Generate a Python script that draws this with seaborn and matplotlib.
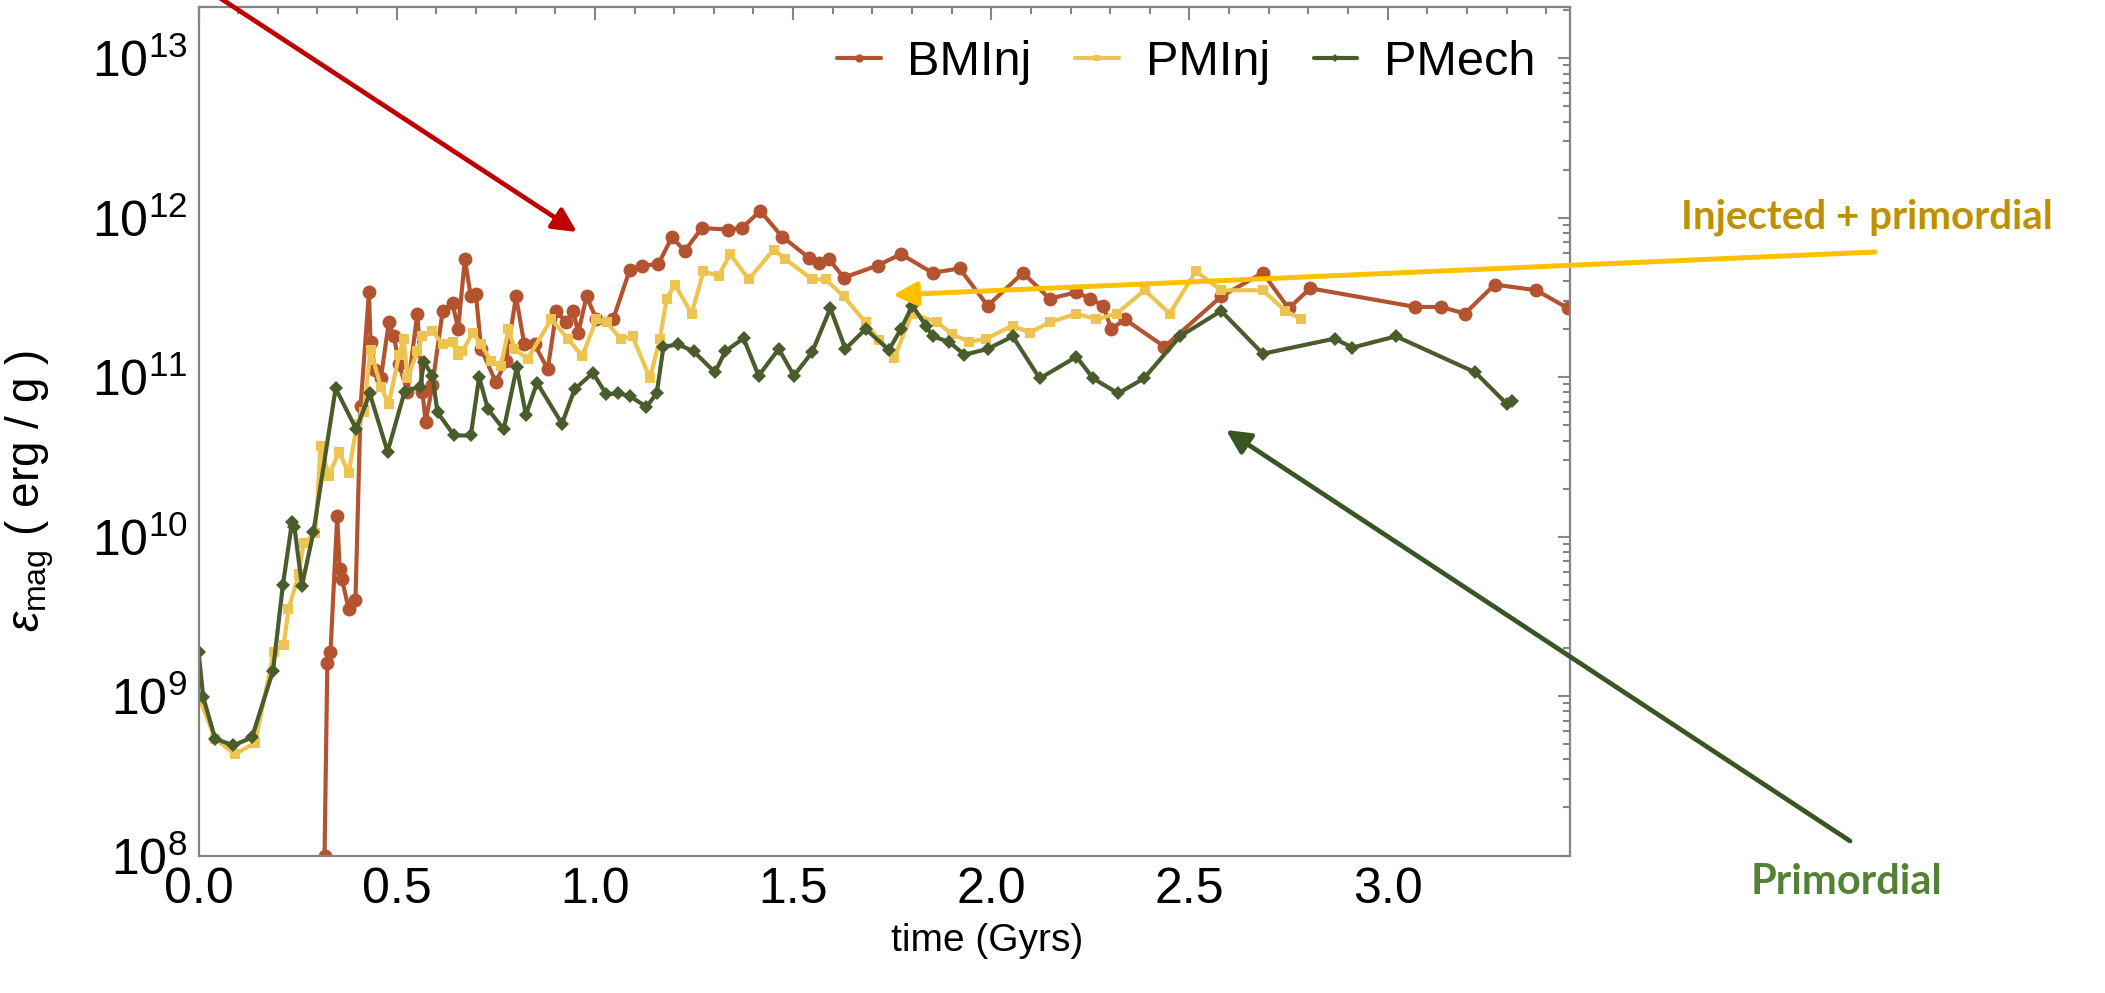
import numpy as np
import pandas as pd
import matplotlib
matplotlib.use("Agg")
import matplotlib.pyplot as plt
import seaborn as sns
from matplotlib.ticker import FixedLocator, MultipleLocator, NullFormatter

# ---- data: magnetic energy per unit mass (erg/g) versus time (Gyr) ----
bminj_time = [0.318, 0.325, 0.333, 0.350, 0.356, 0.362, 0.379, 0.396, 0.409, 0.430,
              0.434, 0.446, 0.460, 0.480, 0.493, 0.506, 0.527, 0.552, 0.565, 0.573,
              0.590, 0.616, 0.641, 0.655, 0.672, 0.687, 0.700, 0.713, 0.750, 0.776,
              0.801, 0.822, 0.848, 0.881, 0.903, 0.928, 0.945, 0.958, 0.979, 1.004,
              1.046, 1.088, 1.118, 1.160, 1.194, 1.227, 1.270, 1.337, 1.371, 1.417,
              1.472, 1.540, 1.565, 1.590, 1.628, 1.713, 1.772, 1.852, 1.920, 1.991,
              2.080, 2.147, 2.215, 2.249, 2.282, 2.303, 2.337, 2.437, 2.580, 2.685,
              2.750, 2.805, 3.070, 3.135, 3.195, 3.270, 3.375, 3.455]
bminj_emag = [1.0e8, 1.6e9, 1.9e9, 1.35e10, 6.3e9, 5.4e9, 3.5e9, 4.0e9, 6.6e10, 3.4e11,
              1.66e11, 1.1e11, 9.8e10, 2.2e11, 1.8e11, 1.2e11, 8.1e10, 2.5e11, 8.1e10, 5.2e10,
              8.9e10, 2.6e11, 2.9e11, 2.0e11, 5.5e11, 3.2e11, 3.3e11, 1.5e11, 9.3e10, 1.26e11,
              3.2e11, 1.6e11, 1.6e11, 1.12e11, 2.6e11, 2.2e11, 2.6e11, 1.9e11, 3.2e11, 2.3e11,
              2.3e11, 4.7e11, 5.0e11, 5.1e11, 7.5e11, 6.2e11, 8.6e11, 8.4e11, 8.6e11, 1.1e12,
              7.6e11, 5.6e11, 5.2e11, 5.5e11, 4.2e11, 5.0e11, 5.9e11, 4.5e11, 4.8e11, 2.8e11,
              4.5e11, 3.1e11, 3.4e11, 3.1e11, 2.8e11, 2.0e11, 2.3e11, 1.55e11, 3.2e11, 4.5e11,
              2.7e11, 3.6e11, 2.75e11, 2.75e11, 2.5e11, 3.8e11, 3.5e11, 2.7e11]

pminj_time = [0.000, 0.042, 0.092, 0.143, 0.190, 0.215, 0.227, 0.253, 0.265, 0.295,
              0.308, 0.329, 0.354, 0.379, 0.400, 0.417, 0.434, 0.460, 0.480, 0.506,
              0.518, 0.527, 0.552, 0.565, 0.590, 0.616, 0.641, 0.654, 0.666, 0.692,
              0.713, 0.738, 0.763, 0.782, 0.797, 0.830, 0.890, 0.932, 0.968, 1.004,
              1.030, 1.065, 1.095, 1.139, 1.164, 1.181, 1.202, 1.244, 1.274, 1.312,
              1.341, 1.388, 1.451, 1.480, 1.548, 1.582, 1.628, 1.683, 1.717, 1.755,
              1.800, 1.864, 1.900, 1.945, 1.987, 2.054, 2.097, 2.147, 2.215, 2.265,
              2.316, 2.387, 2.450, 2.516, 2.580, 2.685, 2.742, 2.782]
pminj_emag = [1.0e9, 5.4e8, 4.3e8, 5.1e8, 1.9e9, 2.1e9, 3.5e9, 5.8e9, 9.1e9, 1.05e10,
              3.7e10, 2.4e10, 3.4e10, 2.5e10, 5.1e10, 6.0e10, 1.48e11, 8.7e10, 6.8e10, 1.38e11,
              1.74e11, 9.8e10, 1.45e11, 1.8e11, 1.95e11, 1.6e11, 1.66e11, 1.38e11, 1.45e11, 1.9e11,
              1.6e11, 1.26e11, 1.17e11, 2.0e11, 1.5e11, 1.3e11, 2.3e11, 1.74e11, 1.35e11, 2.3e11,
              2.2e11, 1.74e11, 1.8e11, 9.8e10, 1.74e11, 3.1e11, 3.8e11, 2.5e11, 4.6e11, 4.3e11,
              5.9e11, 4.1e11, 6.3e11, 5.5e11, 4.1e11, 4.1e11, 3.2e11, 2.2e11, 1.7e11, 1.32e11,
              2.5e11, 2.2e11, 1.86e11, 1.66e11, 1.74e11, 2.1e11, 1.9e11, 2.2e11, 2.5e11, 2.3e11,
              2.5e11, 3.5e11, 2.5e11, 4.6e11, 3.5e11, 3.5e11, 2.6e11, 2.3e11]

pmech_time = [0.000, 0.012, 0.042, 0.088, 0.135, 0.188, 0.213, 0.236, 0.242, 0.261,
              0.290, 0.346, 0.398, 0.432, 0.477, 0.520, 0.559, 0.569, 0.590, 0.603,
              0.645, 0.687, 0.708, 0.730, 0.770, 0.803, 0.826, 0.854, 0.917, 0.949,
              0.995, 1.029, 1.059, 1.088, 1.130, 1.156, 1.173, 1.210, 1.249, 1.303,
              1.329, 1.375, 1.413, 1.464, 1.502, 1.548, 1.594, 1.632, 1.683, 1.742,
              1.772, 1.801, 1.835, 1.852, 1.894, 1.932, 1.991, 2.054, 2.122, 2.215,
              2.257, 2.320, 2.385, 2.476, 2.580, 2.685, 2.866, 2.911, 3.021, 3.221,
              3.300, 3.314]
pmech_emag = [1.9e9, 9.8e8, 5.4e8, 4.9e8, 5.5e8, 1.44e9, 5.0e9, 1.23e10, 1.15e10, 4.9e9,
              1.07e10, 8.5e10, 4.7e10, 7.9e10, 3.4e10, 8.1e10, 8.7e10, 1.24e11, 1.02e11, 6.0e10,
              4.3e10, 4.3e10, 1.0e11, 6.3e10, 4.7e10, 1.15e11, 5.8e10, 9.2e10, 5.1e10, 8.4e10,
              1.06e11, 7.8e10, 7.9e10, 7.6e10, 6.5e10, 7.9e10, 1.55e11, 1.6e11, 1.45e11, 1.07e11,
              1.45e11, 1.75e11, 1.02e11, 1.5e11, 1.02e11, 1.43e11, 2.7e11, 1.5e11, 2.0e11, 1.48e11,
              2.0e11, 2.8e11, 2.1e11, 1.8e11, 1.66e11, 1.38e11, 1.5e11, 1.8e11, 9.8e10, 1.34e11,
              9.8e10, 7.9e10, 9.8e10, 1.8e11, 2.6e11, 1.4e11, 1.74e11, 1.53e11, 1.8e11, 1.07e11,
              6.8e10, 7.1e10]

series_names = ["BMInj", "PMInj", "PMech"]
series_colors = {"BMInj": "#B4532F", "PMInj": "#EEC450", "PMech": "#4A5C2C"}
series_markers = {"BMInj": "o", "PMInj": "s", "PMech": "D"}
series_msize = {"BMInj": 10, "PMInj": 7, "PMech": 7}

x_ticks = [0.0, 0.5, 1.0, 1.5, 2.0, 2.5, 3.0]
y_ticks = [1e8, 1e9, 1e10, 1e11, 1e12, 1e13]

frames = [
    pd.DataFrame({"time": bminj_time, "emag": bminj_emag, "run": "BMInj"}),
    pd.DataFrame({"time": pminj_time, "emag": pminj_emag, "run": "PMInj"}),
    pd.DataFrame({"time": pmech_time, "emag": pmech_emag, "run": "PMech"}),
]

# ---- style ----
sns.set_theme(style="white")
plt.rcParams["font.family"] = ["Liberation Sans", "DejaVu Sans"]
plt.rcParams["text.color"] = "black"
plt.rcParams["mathtext.fontset"] = "custom"
plt.rcParams["mathtext.rm"] = "Liberation Sans"
plt.rcParams["mathtext.it"] = "Liberation Sans:italic"
plt.rcParams["mathtext.bf"] = "Liberation Sans:bold"

W, H = 2105, 993
fig = plt.figure(figsize=(W / 100, H / 100), dpi=100)
ax_left, ax_right, ax_top, ax_bottom = 198.5, 1570.0, 7.0, 855.5
ax = fig.add_axes([ax_left / W, 1 - ax_bottom / H,
                   (ax_right - ax_left) / W, (ax_bottom - ax_top) / H])

for df in frames:
    name = df["run"].iloc[0]
    sns.lineplot(data=df, x="time", y="emag", ax=ax, sort=False, estimator=None,
                 color=series_colors[name], linewidth=3.0,
                 marker=series_markers[name], markersize=series_msize[name],
                 markeredgewidth=0, label=name, clip_on=True)

ax.set_yscale("log")
ax.set_xlim(0.0, 3.46)
ax.set_ylim(1e8, 2.09e13)

ax.xaxis.set_major_locator(FixedLocator(x_ticks))
ax.xaxis.set_minor_locator(MultipleLocator(0.1))
ax.set_xticklabels([f"{v:.1f}" for v in x_ticks])
ax.yaxis.set_major_locator(FixedLocator(y_ticks))
ax.yaxis.set_minor_locator(FixedLocator(
    [m * 10.0 ** e for e in range(8, 14) for m in range(2, 10)]))
ax.set_yticklabels([r"$\mathregular{10^{%d}}$" % int(np.log10(v)) for v in y_ticks])
ax.yaxis.set_minor_formatter(NullFormatter())

frame_grey = "#858585"
for sp in ax.spines.values():
    sp.set_color(frame_grey)
    sp.set_linewidth(1.6)
ax.tick_params(which="both", direction="in", top=True, right=True,
               color=frame_grey, width=1.5)
ax.tick_params(which="major", length=9, labelsize=36, pad=8, labelcolor="black")
ax.tick_params(which="minor", length=5)
ax.grid(False)

ax.set_xlabel("time (Gyrs)", fontsize=28, color="black")
ax.xaxis.set_label_coords(0.575, -0.08)
ax.set_ylabel(r"$\varepsilon_{\mathregular{mag}}$ ( erg / g )", fontsize=33,
              color="black")
ax.yaxis.set_label_coords(-0.104, 0.43)

leg = ax.legend(loc="center right", bbox_to_anchor=(0.989, 0.935), ncol=3,
                frameon=False, fontsize=35, handlelength=0.9, handletextpad=0.55,
                columnspacing=0.9, borderaxespad=0.0, numpoints=1, markerscale=0.6)
for txt in leg.get_texts():
    txt.set_color("black")

# ---- call-out arrows and captions outside the plot ----
def fig_px(x, y):
    return (x, H - y)

arrow_kw = dict(xycoords="figure pixels", textcoords="figure pixels",
                annotation_clip=False)
ax.annotate("", xy=fig_px(577, 232), xytext=fig_px(188, -23),
            arrowprops=dict(arrowstyle="-|>,head_length=0.9,head_width=0.45",
                            color="#C00000", lw=3.4, mutation_scale=16,
                            shrinkA=0, shrinkB=0), **arrow_kw)
ax.annotate("", xy=fig_px(893, 295), xytext=fig_px(1875, 252),
            arrowprops=dict(arrowstyle="-|>,head_length=0.9,head_width=0.45",
                            color="#FFC000", lw=3.6, mutation_scale=16,
                            shrinkA=0, shrinkB=0), **arrow_kw)
ax.annotate("", xy=fig_px(1226, 430), xytext=fig_px(1850, 841),
            arrowprops=dict(arrowstyle="-|>,head_length=0.9,head_width=0.45",
                            color="#375623", lw=3.4, mutation_scale=16,
                            shrinkA=0, shrinkB=0), **arrow_kw)

fig.text(1867 / W, 1 - 217 / H, "Injected + primordial", fontsize=29,
         fontweight="bold", family=["Lato", "DejaVu Sans"], color="#BF9000",
         ha="center", va="center")
fig.text(1847 / W, 1 - 882 / H, "Primordial", fontsize=30,
         fontweight="bold", family=["Lato", "DejaVu Sans"], color="#548235",
         ha="center", va="center")

fig.savefig("out.png", dpi=100, facecolor="white")
